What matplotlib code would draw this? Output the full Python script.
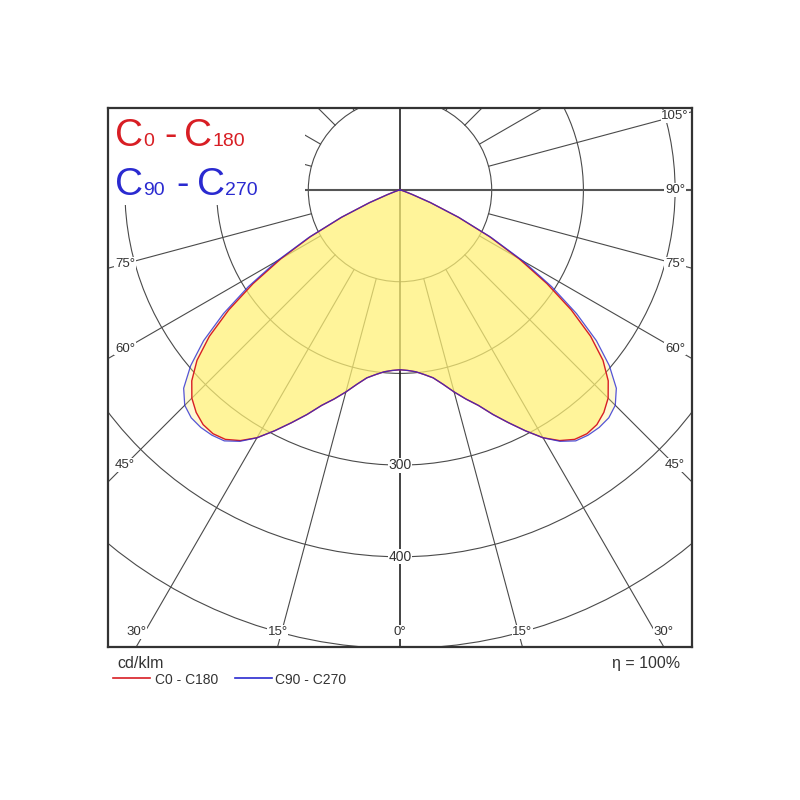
import numpy as np
import matplotlib
matplotlib.use("Agg")
import matplotlib.pyplot as plt
from matplotlib.patches import Rectangle, Circle

plt.rcParams['font.family'] = ['Liberation Sans', 'DejaVu Sans']

# luminous intensity (cd/klm) against gamma angle
gamma = [0, 2.5, 5, 7.5, 10, 12.5, 15, 17.5, 20, 22.5, 25, 27.5, 30, 32.5, 35,
         37.5, 40, 42.5, 45, 47.5, 50, 52.5, 55, 57.5, 60, 62.5, 65, 67.5, 70,
         72.5, 75, 77.5, 80, 82.5, 85, 87.5, 90]
c0_c180 = [196, 197, 199, 203, 208, 217, 228, 239, 250, 265, 280, 296, 312, 324, 332,
           335, 334, 329, 321, 308, 289, 262, 228, 190, 150, 110, 70, 36, 14,
           6, 3, 2, 1, 0.5, 0, 0, 0]
c90_c270 = [196, 197, 199, 203, 208, 217, 228, 239, 250, 265, 280, 296, 312, 325, 334,
            337, 338, 337, 332, 320, 298, 270, 235, 196, 155, 112, 71, 36, 14,
            6, 3, 2, 1, 0.5, 0, 0, 0]

rings = [100, 200, 300, 400, 500]
ring_labels = [300, 400]
spokes = [15, 30, 45, 60, 75, 105, 120, 135, 150, 165]
side_labels = [45, 60, 75, 90, 105]
bottom_labels = [0, 15, 30]

red = '#d81e24'
blue = '#2a2ad0'
grid = '#4a4a4a'

fig = plt.figure(figsize=(8, 8), dpi=100)
W, H = 800, 800
px = 0.917  # pixels per cd/klm
ax = fig.add_axes([108 / W, 1 - 647 / H, 584 / W, 539 / H])
xmax = 292 / px
ymin, ymax = -457 / px, 82 / px
ax.set_xlim(-xmax, xmax)
ax.set_ylim(ymin, ymax)
ax.set_xticks([])
ax.set_yticks([])
for s in ax.spines.values():
    s.set_color('#333333')
    s.set_linewidth(1.6)
    s.set_zorder(10)

# grid
for r in rings:
    ax.add_patch(Circle((0, 0), r, fill=False, ec=grid, lw=0.8, zorder=1))
for a in spokes:
    t = np.radians(a)
    for sgn in (-1, 1):
        ax.plot([sgn * 100 * np.sin(t), sgn * 900 * np.sin(t)],
                [-100 * np.cos(t), -900 * np.cos(t)], color=grid, lw=0.8, zorder=1)
ax.axhline(0, color='#555555', lw=1.5, zorder=1)
ax.axvline(0, color='#222222', lw=1.2, zorder=1)

# curves
g = np.radians(gamma)


def outline(vals):
    v = np.array(vals, dtype=float)
    xs = np.concatenate([-(v * np.sin(g))[::-1], (v * np.sin(g))[1:]])
    ys = np.concatenate([-(v * np.cos(g))[::-1], -(v * np.cos(g))[1:]])
    return xs, ys


xb, yb = outline(c90_c270)
xr, yr = outline(c0_c180)
ax.fill(xb, yb, color='#fff176', alpha=0.3, lw=0, zorder=2)
ax.fill(xr, yr, color='#fff176', alpha=0.62, lw=0, zorder=2)
ax.plot(xr, yr, color=red, lw=1.0, zorder=3)
ax.plot(xb, yb, color=blue, lw=0.9, alpha=0.8, zorder=3)

# labels
lab = dict(fontsize=9.5, color='#333333', ha='center', va='center', zorder=4,
           bbox=dict(facecolor='white', edgecolor='none', pad=0.4))
for a in side_labels:
    xl = xmax - 17 / px
    yl = -xl / np.tan(np.radians(a)) if a != 90 else 0
    # the left 90° and 105° marks sit under the title box
    for sgn in ((1,) if a >= 90 else (-1, 1)):
        ax.text(sgn * xl, yl, f'{a}°', **lab)
for a in bottom_labels:
    yl = ymin + 15 / px
    xl = -ymin * np.tan(np.radians(a))
    for sgn in ((1,) if a == 0 else (-1, 1)):
        ax.text(sgn * xl, yl, f'{a}°', **lab)
for r in ring_labels:
    ax.text(0, -r, str(r), fontsize=10, color='#333333', ha='center', va='center',
            zorder=4, bbox=dict(facecolor='white', edgecolor='none', pad=0.3))

# white box behind the title
ax.add_patch(Rectangle((0, 0.82), 0.337, 0.18, transform=ax.transAxes,
                       fc='white', ec='none', zorder=5))

renderer = fig.canvas.get_renderer()


def rich(x, y, parts, color):
    for s, size, gap in parts:
        t = fig.text(x / W, 1 - y / H, s, fontsize=size, color=color,
                     ha='left', va='baseline', zorder=6)
        x += t.get_window_extent(renderer).width + gap


rich(115, 146, [('C', 28, 0), ('0', 14, 10), ('-', 27, 8), ('C', 28, 0), ('180', 14, 0)], red)
rich(115, 195, [('C', 28, 0), ('90', 14, 12), ('-', 27, 8), ('C', 28, 0), ('270', 14, 0)], blue)

# footer
fig.text(117 / W, 1 - 668 / H, 'cd/klm', fontsize=11.5, color='#333333', va='baseline')
fig.text(680 / W, 1 - 668 / H, 'η = 100%', fontsize=11.5, color='#333333',
         va='baseline', ha='right')
fig.add_artist(plt.Line2D([113 / W, 150 / W], [1 - 678 / H] * 2, color=red, lw=1.2))
fig.text(155 / W, 1 - 684 / H, 'C0 - C180', fontsize=10, color='#333333', va='baseline')
fig.add_artist(plt.Line2D([235 / W, 272 / W], [1 - 678 / H] * 2, color=blue, lw=1.2))
fig.text(275 / W, 1 - 684 / H, 'C90 - C270', fontsize=10, color='#333333', va='baseline')

fig.savefig('out.png', dpi=100, facecolor='white')
